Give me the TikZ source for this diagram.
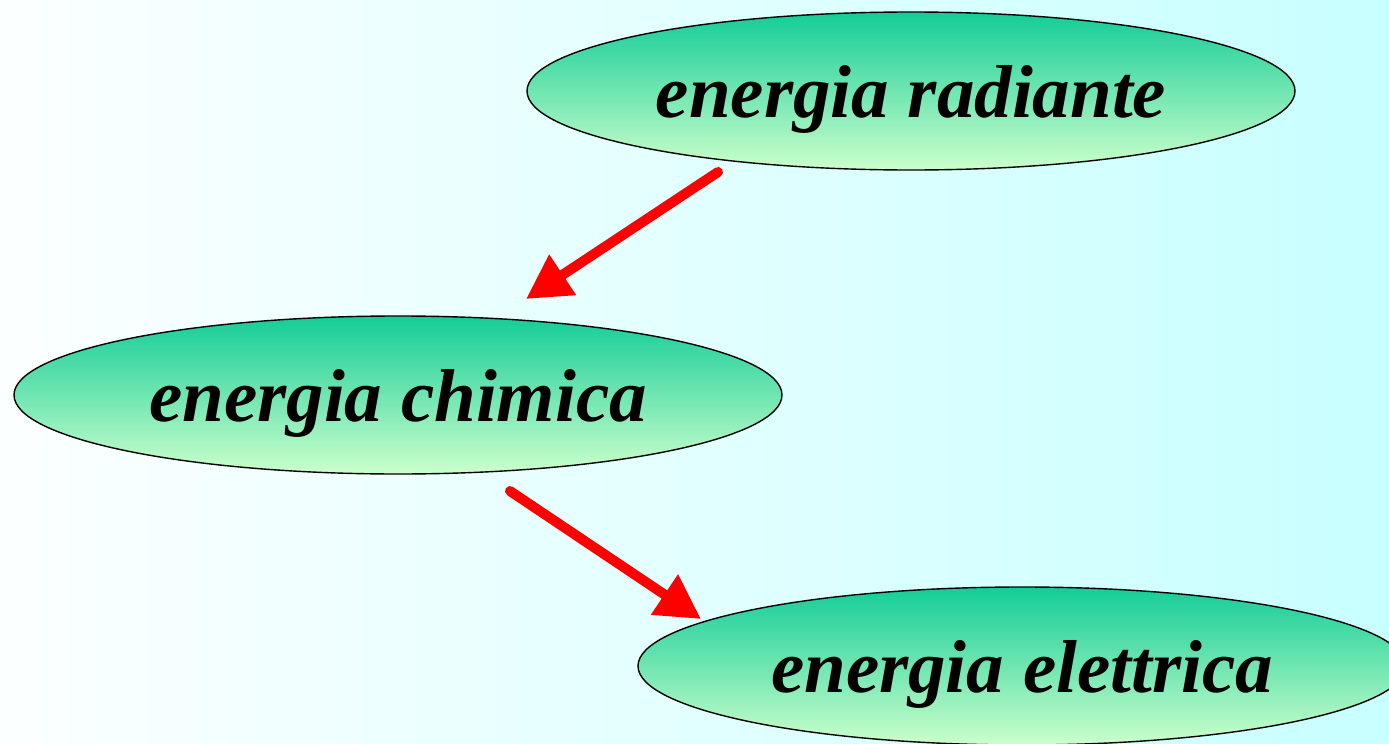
\documentclass[tikz,border=0pt]{standalone}
\usepackage{fontspec}
\setmainfont{Liberation Serif}
\usetikzlibrary{arrows.meta,shapes.geometric,calc}
\definecolor{ovtop}{RGB}{20,204,152}
\definecolor{ovbot}{RGB}{204,255,204}
\definecolor{bgleft}{RGB}{252,255,255}
\definecolor{bgright}{RGB}{200,255,255}
\definecolor{arrred}{RGB}{255,0,0}
\tikzset{
  oval/.style={ellipse, draw=black, line width=0.7pt, inner sep=0pt,
    minimum width=384pt, minimum height=79pt, top color=ovtop, bottom color=ovbot,
    text height=34pt, text depth=8pt,
    font=\fontsize{37.5}{44}\selectfont\bfseries\itshape},
  redarrow/.style={draw=arrred, line width=5pt, line cap=round,
    -{Triangle[length=22pt,width=23pt]}}
}
\begin{document}
\begin{tikzpicture}[x=0.5pt,y=-0.5pt]
\useasboundingbox (0,0) rectangle (1389,744);
\clip (0,0) rectangle (1389,744);
\shade[left color=bgleft, right color=bgright] (0,0) rectangle (1389,744);
\node[oval] (rad) at (911,91) {energia radiante};
\node[oval] (chi) at (398,395) {energia chimica};
\node[oval] (ele) at (1022,666) {energia elettrica};
\coordinate (a1s) at ($(rad.center)+(-193,81)$);
\coordinate (a1e) at ($(chi.center)+(128,-96)$);
\coordinate (a2s) at ($(chi.center)+(112,96)$);
\coordinate (a2e) at ($(ele.center)+(-321,-47)$);
\draw[redarrow] (a1s) -- (a1e);
\draw[redarrow] (a2s) -- (a2e);
\end{tikzpicture}
\end{document}
